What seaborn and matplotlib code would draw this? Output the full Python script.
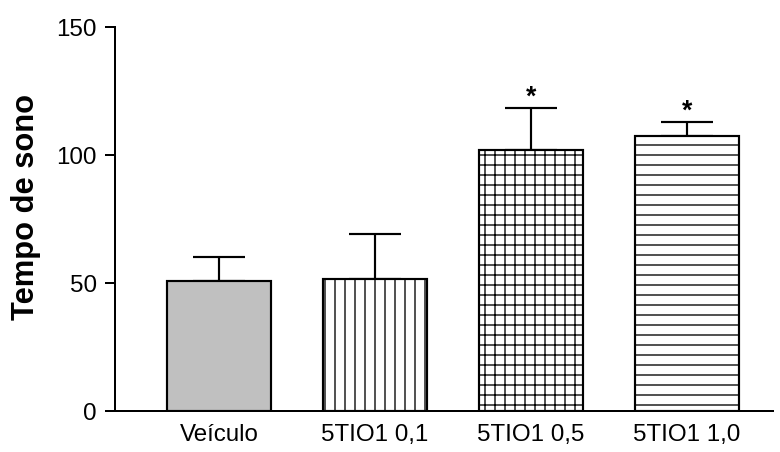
import numpy as np
import matplotlib
matplotlib.use("Agg")
from matplotlib import pyplot as plt
import seaborn as sns

# data
groups = ["Veículo", "5TIO1 0,1", "5TIO1 0,5", "5TIO1 1,0"]
means = [50.9, 51.5, 101.9, 107.4]
errs = [9.4, 17.6, 16.4, 5.5]
signif = [False, False, True, True]

sns.set_style("ticks")
plt.rcParams["font.family"] = ["Liberation Sans", "DejaVu Sans"]
plt.rcParams["hatch.linewidth"] = 0.8
plt.rcParams["hatch.color"] = "black"
for k in ["text.color", "axes.labelcolor", "xtick.color", "ytick.color", "axes.edgecolor"]:
    plt.rcParams[k] = "black"

fig = plt.figure(figsize=(6.5, 452 / 120), dpi=120)
ax = fig.add_axes([115 / 780, 1 - 411 / 452, (773 - 115) / 780, (411 - 27) / 452])

sns.barplot(x=groups, y=means, hue=groups, palette=["#c0c0c0", "white", "white", "white"],
            width=0.667, edgecolor="black", linewidth=1.3, legend=False, ax=ax)

hatches = ["", "||", "++", "--"]
for bar, h in zip(ax.patches, hatches):
    bar.set_hatch(h)

ax.errorbar(range(len(groups)), means, yerr=[np.zeros(len(errs)), errs], fmt="none",
            ecolor="black", elinewidth=1.3, capsize=15.6, capthick=1.3, zorder=0.5)

for i, (m, e, s) in enumerate(zip(means, errs, signif)):
    if s:
        ax.annotate("*", xy=(i, m + e), xytext=(0, 2), textcoords="offset points",
                    ha="center", va="baseline", fontsize=16, fontweight="bold")

ax.set_xlim(-0.667, 3.551)
ax.set_ylim(0, 150)
ax.set_yticks([0, 50, 100, 150])
ax.set_ylabel("Tempo de sono", fontsize=18.5, fontweight="bold")
ax.yaxis.set_label_coords(-0.112, 0.53)
ax.tick_params(axis="y", length=6, width=1.2, labelsize=14.5, pad=5)
ax.tick_params(axis="x", length=0, labelsize=14.5, pad=8)
sns.despine(ax=ax)
for sp in ["left", "bottom"]:
    ax.spines[sp].set_linewidth(1.2)

fig.savefig("out.png", dpi=120)
